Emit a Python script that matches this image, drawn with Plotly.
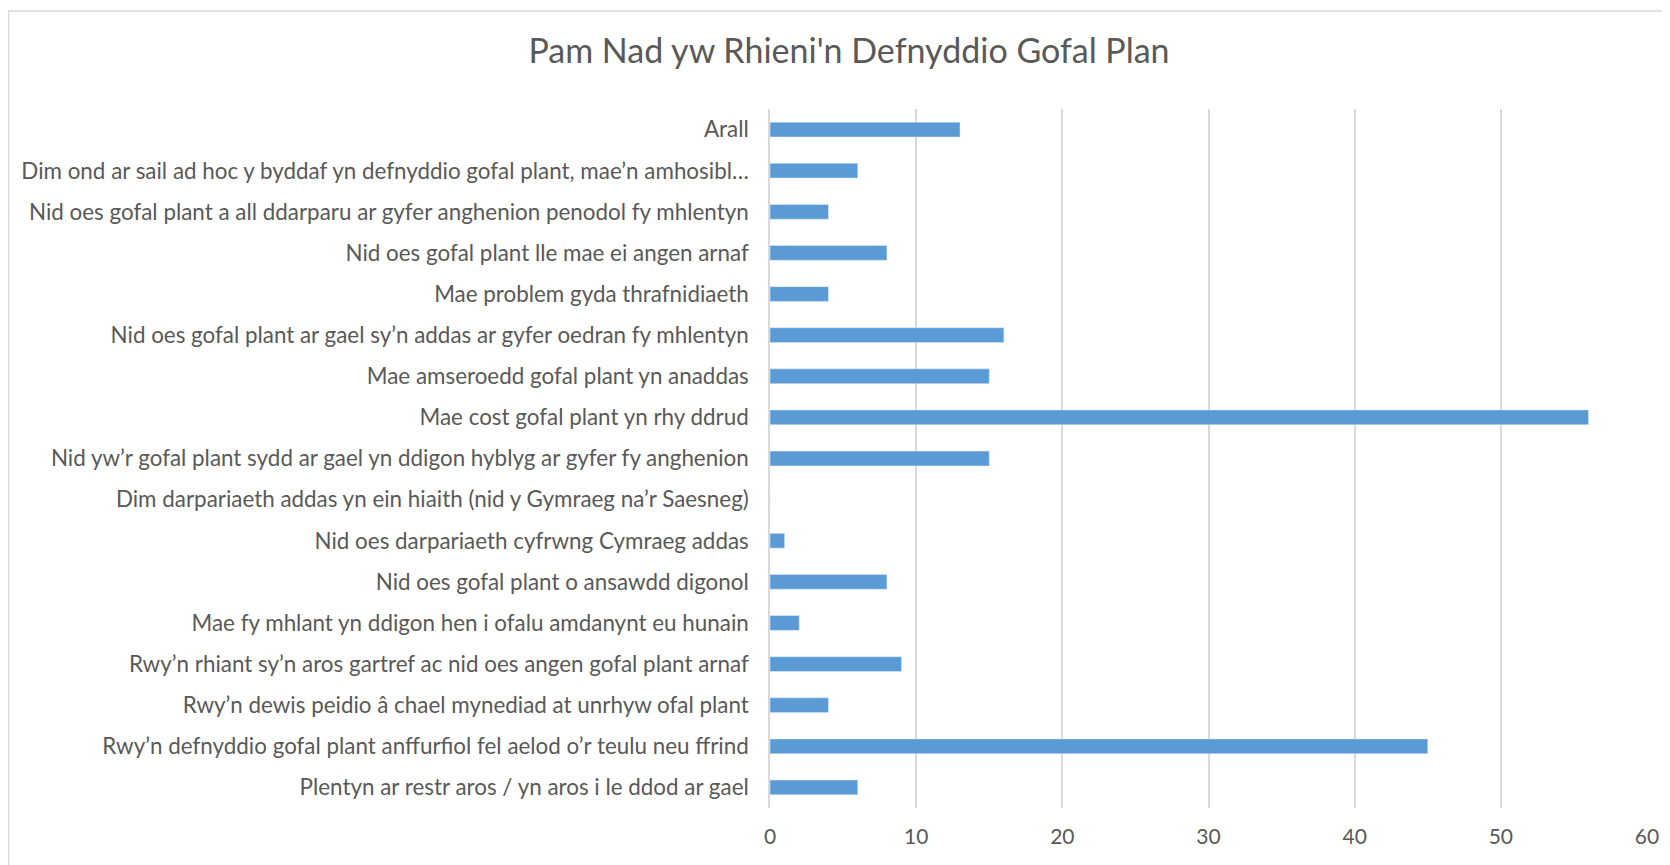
import plotly.graph_objects as go

categories = [
    "Arall",
    "Dim ond ar sail ad hoc y byddaf yn defnyddio gofal plant, mae’n amhosibl…",
    "Nid oes gofal plant a all ddarparu ar gyfer anghenion penodol fy mhlentyn",
    "Nid oes gofal plant lle mae ei angen arnaf",
    "Mae problem gyda thrafnidiaeth",
    "Nid oes gofal plant ar gael sy’n addas ar gyfer oedran fy mhlentyn",
    "Mae amseroedd gofal plant yn anaddas",
    "Mae cost gofal plant yn rhy ddrud",
    "Nid yw’r gofal plant sydd ar gael yn ddigon hyblyg ar gyfer fy anghenion",
    "Dim darpariaeth addas yn ein hiaith (nid y Gymraeg na’r Saesneg)",
    "Nid oes darpariaeth cyfrwng Cymraeg addas",
    "Nid oes gofal plant o ansawdd digonol",
    "Mae fy mhlant yn ddigon hen i ofalu amdanynt eu hunain",
    "Rwy’n rhiant sy’n aros gartref ac nid oes angen gofal plant arnaf",
    "Rwy’n dewis peidio â chael mynediad at unrhyw ofal plant",
    "Rwy’n defnyddio gofal plant anffurfiol fel aelod o’r teulu neu ffrind",
    "Plentyn ar restr aros / yn aros i le ddod ar gael",
]
values = [13, 6, 4, 8, 4, 16, 15, 56, 15, 0, 1, 8, 2, 9, 4, 45, 6]
x_ticks = [0, 10, 20, 30, 40, 50, 60]
title_text = "Pam Nad yw Rhieni'n Defnyddio Gofal Plan"

W, H = 1662, 857
L, R, T, B = 762, 1639, 101, 800

fig = go.Figure(go.Bar(
    x=values, y=categories, orientation="h",
    marker=dict(color="#5b9bd5"), width=0.36,
))

def px_x(p):
    return (p - L) / (R - L)

def px_y(p):
    return (B - p) / (B - T)

fig.add_shape(type="rect", xref="paper", yref="paper",
              x0=px_x(0.5), x1=px_x(1720), y0=px_y(920), y1=px_y(3),
              line=dict(color="#d9d9d9", width=1.5), fillcolor="rgba(0,0,0,0)",
              layer="below")

fig.update_layout(
    width=W, height=H,
    margin=dict(l=L, r=W - R, t=T, b=H - B, autoexpand=False),
    paper_bgcolor="white", plot_bgcolor="white",
    font=dict(family="Lato, Open Sans, sans-serif", color="#595959", size=21),
    title=dict(text=title_text, x=841 / W, xref="container", xanchor="center",
               y=1 - 43 / H, yref="container", yanchor="middle",
               font=dict(size=34, color="#595959")),
    showlegend=False,
)
fig.update_xaxes(range=[0, 60], tickvals=x_ticks, showgrid=True, gridcolor="#d9d9d9",
                 gridwidth=1.5, zeroline=False, showline=False, ticks="",
                 tickfont=dict(size=21), ticklabelstandoff=14)
fig.update_yaxes(autorange="reversed", showline=True, linecolor="#d9d9d9", linewidth=1.5,
                 ticks="", showgrid=False, tickfont=dict(size=22.4), ticklabelstandoff=15)

fig.write_html("out.html")
